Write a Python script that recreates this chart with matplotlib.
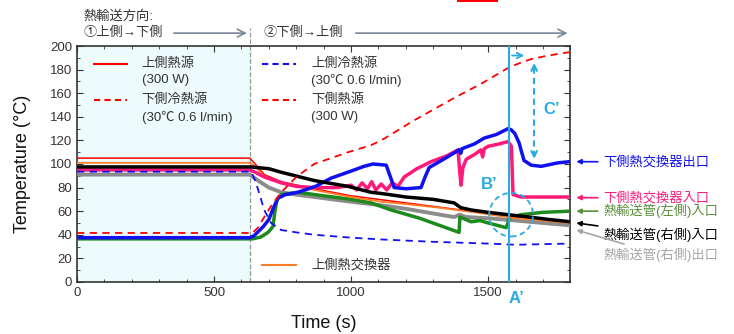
import numpy as np
import matplotlib
matplotlib.use("Agg")
import matplotlib.pyplot as plt
from matplotlib.patches import Ellipse, Rectangle
import matplotlib.transforms as mtransforms

plt.rcParams['font.family'] = ['Liberation Sans', 'Noto Sans CJK JP', 'DejaVu Sans']

# ---- data ----
t_src_top = [0, 630, 650, 683, 745, 865, 1000, 1200, 1400, 1600, 1800]
T_src_top = [105, 105, 100, 91, 85, 79, 73, 67, 61, 55, 51]

t_src_low = [0, 640, 660, 683, 710, 745, 800, 865, 989, 1073, 1110, 1230, 1376, 1474, 1577, 1620, 1657, 1720, 1800]
T_src_low = [41.5, 41.5, 46, 55, 65, 76, 89, 100, 110, 116, 120, 137, 156, 168, 182, 186, 189, 192, 195]

t_cold_top = [0, 635, 650, 665, 683, 708, 745, 800, 865, 1000, 1110, 1300, 1500, 1600, 1700, 1800]
T_cold_top = [93.5, 93.5, 86, 75, 61, 50, 44, 42, 40, 37.5, 36, 34, 32.5, 31.5, 32, 32.5]

t_hx_top = [0, 630, 650, 683, 745, 865, 1000, 1110, 1200, 1318, 1450, 1600, 1800]
T_hx_top = [101, 101, 98, 89, 84, 78, 72, 68, 66, 63, 59, 54, 50]

t_out = [0, 630, 645, 680, 700, 715, 733, 760, 806, 870, 927, 1000, 1047, 1080, 1128, 1145, 1157,
         1200, 1255, 1270, 1285, 1330, 1395, 1400, 1405, 1450, 1486, 1530, 1573, 1584, 1597, 1613,
         1620, 1631, 1657, 1694, 1755, 1800]
T_out = [37.5, 37.5, 39, 47, 53, 62, 71, 74, 76, 81, 88, 94, 98, 100, 99, 88, 80,
         79, 80, 89, 97, 103, 112, 109, 113, 117, 122, 125, 130, 129, 126, 118,
         112, 103, 99, 98, 101, 102]

t_in = [0, 630, 650, 683, 745, 800, 865, 950, 1000, 1020, 1040, 1060, 1075, 1090, 1110, 1130, 1150,
        1171, 1194, 1240, 1292, 1350, 1390, 1396, 1401, 1408, 1420, 1450, 1474, 1480, 1486, 1500,
        1540, 1573, 1585, 1591, 1620, 1700, 1800]
T_in = [95, 95, 93, 89, 84, 81, 80, 80, 82, 78, 84, 79, 85, 78, 83, 78, 84,
        81, 89, 96, 102, 107, 112, 95, 82, 97, 104, 108, 112, 106, 113, 115,
        117, 119, 115, 74, 72, 72, 72]

t_pipe_l = [0, 640, 670, 697, 715, 722, 730, 745, 806, 900, 1000, 1073, 1146, 1250, 1394, 1397,
            1438, 1470, 1500, 1566, 1572, 1577, 1620, 1700, 1800]
T_pipe_l = [36.5, 36.5, 38, 42, 47, 60, 70, 74, 76, 73, 70, 67, 61, 54, 42, 55,
            51, 52, 50, 46, 50, 54, 57, 59, 60]

t_pipe_r_in = [0, 635, 700, 745, 865, 989, 1073, 1110, 1200, 1300, 1376, 1400, 1438, 1500, 1573, 1650, 1720, 1800]
T_pipe_r_in = [97.5, 97.5, 96, 93, 86, 81, 76, 75, 72, 70, 67, 63, 61, 59, 57, 55, 53, 51]

t_pipe_r_out = [0, 630, 660, 700, 745, 800, 900, 1000, 1110, 1200, 1300, 1376, 1395, 1420, 1500, 1580, 1650, 1800]
T_pipe_r_out = [91, 91, 86, 80, 76, 74, 71, 68, 65, 62, 58, 55, 57, 55, 54, 52.5, 51, 48]

t_switch = 630
t_A = 1577

cyan = '#29ABE2'
blue = '#1010F0'
pink = '#FF1A7A'
green = '#1E8A1E'
orange = '#FF7F27'
gray = '#8C8C8C'

fig = plt.figure(figsize=(7.34, 3.34), dpi=100)
ax = fig.add_axes([0.105, 0.156, 0.672, 0.706])

ax.axvspan(0, t_switch, color='#EEFBFD', zorder=0)
ax.axvline(t_switch, ymin=0, ymax=1.075, color='#999999', ls='--', lw=0.9, clip_on=False, zorder=1)

ax.plot(t_pipe_r_out, T_pipe_r_out, color=gray, lw=2.8, zorder=3)
ax.plot(t_pipe_l, T_pipe_l, color=green, lw=2.5, zorder=3)
ax.plot(t_src_top, T_src_top, color='red', lw=1.1, zorder=4)
ax.plot(t_hx_top, T_hx_top, color=orange, lw=1.3, zorder=4)
ax.plot(t_in, T_in, color=pink, lw=2.5, zorder=4)
ax.plot(t_out, T_out, color=blue, lw=2.5, zorder=5)
ax.plot(t_pipe_r_in, T_pipe_r_in, color='black', lw=2.5, zorder=5)
ax.plot(t_src_low, T_src_low, color='red', lw=1.3, ls=(0, (4, 3)), zorder=6)
ax.plot(t_cold_top, T_cold_top, color=blue, lw=1.3, ls=(0, (4, 3)), zorder=6)

ax.set_xlim(0, 1800)
ax.set_ylim(0, 200)
ax.set_xticks([0, 500, 1000, 1500])
ax.set_xticks(np.arange(0, 1801, 100), minor=True)
ax.set_yticks(np.arange(0, 201, 20))
ax.set_yticks(np.arange(0, 201, 10), minor=True)
ax.tick_params(which='both', direction='in', top=True, right=True, labelsize=9.5, colors='#333333')
ax.tick_params(which='major', length=4)
ax.tick_params(which='minor', length=2.5)
for s in ax.spines.values():
    s.set_color('#333333')
    s.set_linewidth(1.2)

ax.set_xlabel('Time (s)', fontsize=13, color='#111111', labelpad=12)
ax.set_ylabel('Temperature (\u00b0C)', fontsize=13, color='#111111', labelpad=14)

# legend-like entries inside the axes
ta = ax.transAxes
fs = 9.5
def entry(x0, x1, y, color, ls, lines, ys):
    ax.plot([x0, x1], [y, y], color=color, ls=ls, lw=1.5, transform=ta, zorder=7)
    for txt, yy in zip(lines, ys):
        ax.text(x1 + 0.03, yy, txt, transform=ta, fontsize=fs, color='#333333', va='center', ha='left', zorder=7)

entry(0.034, 0.101, 0.924, 'red', '-', ['上側熱源', '(300 W)'], [0.924, 0.856])
entry(0.034, 0.101, 0.771, 'red', (0, (3, 2)), ['下側冷熱源', '(30℃ 0.6 l/min)'], [0.771, 0.699])
entry(0.375, 0.444, 0.924, blue, (0, (3, 2)), ['上側冷熱源', '(30℃ 0.6 l/min)'], [0.924, 0.856])
entry(0.375, 0.444, 0.771, 'red', (0, (3, 2)), ['下側熱源', '(300 W)'], [0.771, 0.699])
entry(0.375, 0.444, 0.072, orange, '-', ['上側熱交換器'], [0.072])

# direction header above the axes
blend = mtransforms.blended_transform_factory(ax.transData, ax.transAxes)
ax.text(22, 1.127, '熱輸送方向:', transform=blend, fontsize=fs, color='#333333', va='center')
ax.text(22, 1.055, '①上側→下側', transform=blend, fontsize=fs, color='#333333', va='center')
ax.text(679, 1.055, '②下側→上側', transform=blend, fontsize=fs, color='#333333', va='center')
arrow_kw = dict(arrowstyle='->', color='#7A8799', lw=1.2, mutation_scale=14)
ax.annotate('', xy=(t_switch, 1.055), xytext=(343, 1.055), xycoords=blend, textcoords=blend,
            arrowprops=arrow_kw, annotation_clip=False)
ax.annotate('', xy=(1800, 1.055), xytext=(1007, 1.055), xycoords=blend, textcoords=blend,
            arrowprops=arrow_kw, annotation_clip=False)

# A', B', C' markers
ax.axvline(t_A, color=cyan, lw=1.5, zorder=8)
ax.annotate('', xy=(1642, 192), xytext=(t_A, 192),
            arrowprops=dict(arrowstyle='->', color=cyan, lw=1.3, mutation_scale=10), zorder=8)
ax.plot([1668, 1668], [106, 184], color=cyan, lw=1.5, ls=(0, (3, 2)), zorder=8)
ax.annotate('', xy=(1668, 188), xytext=(1668, 178),
            arrowprops=dict(arrowstyle='->', color=cyan, lw=1.5, mutation_scale=10), zorder=8)
ax.annotate('', xy=(1668, 102), xytext=(1668, 112),
            arrowprops=dict(arrowstyle='->', color=cyan, lw=1.5, mutation_scale=10), zorder=8)
ax.text(1730, 146, 'C’', color=cyan, fontsize=12, fontweight='bold', ha='center', va='center', zorder=8)
ax.text(1504, 83, 'B’', color=cyan, fontsize=12, fontweight='bold', ha='center', va='center', zorder=8)
ax.add_patch(Ellipse((1584, 57), width=160, height=37, fill=False, ec=cyan, lw=1.3,
                     ls=(0, (3, 2)), zorder=8))
ax.text(t_A + 25, -0.07, 'A’', transform=blend, color=cyan, fontsize=12, fontweight='bold',
        ha='center', va='center')

# right-side labels
labels = [
    ('下側熱交換器出口', blue, 102, 101.7),
    ('下側熱交換器入口', pink, 71.5, 71),
    ('熱輸送管(左側)入口', '#5A8F3C', 60, 60),
    ('熱輸送管(右側)入口', 'black', 50, 40),
    ('熱輸送管(右側)出口', '#A6A6A6', 44, 23),
]
for txt, c, tip, ty in labels:
    ax.annotate(txt, xy=(1822, tip), xytext=(1.067, ty / 200), textcoords='axes fraction',
                fontsize=fs, color=c, ha='left', va='center', annotation_clip=False,
                arrowprops=dict(arrowstyle='-|>', color=c, lw=1.2, mutation_scale=7,
                                shrinkA=2, shrinkB=0))

fig.add_artist(Rectangle((0.623, 0.9955), 0.056, 0.0045, transform=fig.transFigure,
                         facecolor='red', lw=0))

fig.savefig('out.png', dpi=100)
